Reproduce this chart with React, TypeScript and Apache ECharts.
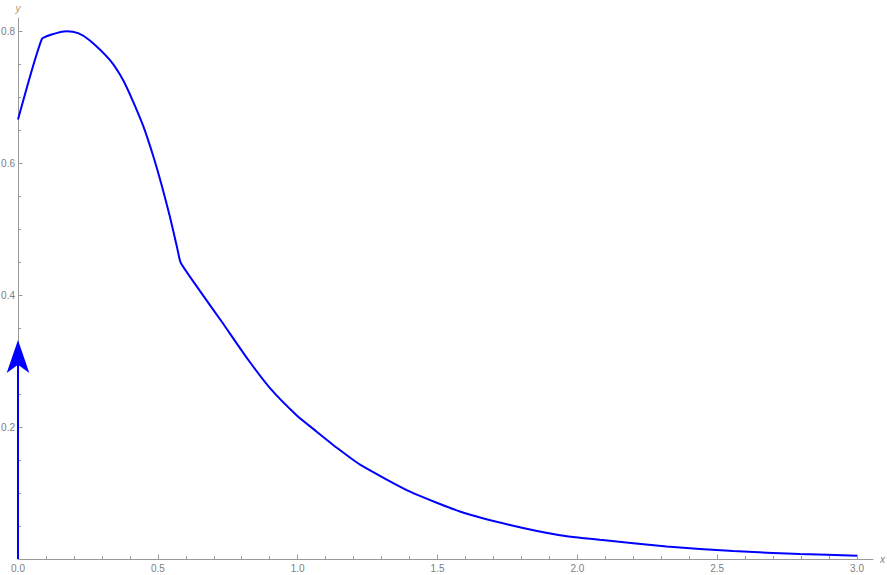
import React, { useEffect, useRef } from "react";
import * as echarts from "echarts";

// Curve sample points (x, y)
const curveX = [0, 0.085, 0.12, 0.174, 0.215, 0.257, 0.329, 0.377, 0.412, 0.448, 0.484, 0.514, 0.543, 0.57, 0.582, 0.651, 0.728, 0.823, 0.901, 0.996, 1.068, 1.145, 1.223, 1.402, 1.58, 1.759, 1.938, 2.081, 2.319, 2.557, 2.796, 3.0];
const curveY = [0.666, 0.788, 0.795, 0.8, 0.797, 0.786, 0.756, 0.725, 0.693, 0.656, 0.61, 0.566, 0.519, 0.47, 0.449, 0.406, 0.36, 0.302, 0.259, 0.218, 0.193, 0.167, 0.143, 0.102, 0.072, 0.0515, 0.036, 0.029, 0.019, 0.012, 0.0076, 0.005];

// Point mass (arrow) at x = 0
const arrowX = 0;
const arrowTipY = 0.332;

const xMajor = [0, 0.5, 1.0, 1.5, 2.0, 2.5, 3.0];
const xMinor = [0.1, 0.2, 0.3, 0.4, 0.6, 0.7, 0.8, 0.9, 1.1, 1.2, 1.3, 1.4, 1.6, 1.7, 1.8, 1.9, 2.1, 2.2, 2.3, 2.4, 2.6, 2.7, 2.8, 2.9];
const yMajor = [0.2, 0.4, 0.6, 0.8];
const yMinor = [0.05, 0.1, 0.15, 0.25, 0.3, 0.35, 0.45, 0.5, 0.55, 0.65, 0.7, 0.75];

const X_MAX = 3.057;
const Y_MAX = 0.82;

export default function App() {
  const ref = useRef<HTMLDivElement>(null);
  useEffect(() => {
    const chart = echarts.init(ref.current!, null, { renderer: "svg" });
    const axisColor = "#999999";
    const labelColor = "#808080";
    const font = "Liberation Sans";
    const arrowH = 33;
    const plotH = 575 - 18 - 16;
    const shaftEnd = arrowTipY - 14 * (Y_MAX / plotH);
    chart.setOption({
      animation: false,
      grid: { left: 18, right: 14, top: 18, bottom: 16, containLabel: false, outerBoundsMode: "none" },
      xAxis: [
        {
          type: "value",
          min: 0,
          max: X_MAX,
          name: "x",
          nameLocation: "end",
          nameGap: 7,
          nameTextStyle: { color: labelColor, fontStyle: "italic", fontSize: 10, fontFamily: font, verticalAlign: "middle" },
          axisLine: { show: true, onZero: false, lineStyle: { color: axisColor, width: 1 } },
          axisTick: { show: true, inside: true, length: 4.5, customValues: xMajor, lineStyle: { color: axisColor } },
          axisLabel: {
            show: true,
            customValues: xMajor,
            formatter: (v: number) => v.toFixed(1),
            color: labelColor,
            fontSize: 10,
            fontFamily: font,
            margin: 4,
          },
          splitLine: { show: false },
        },
        {
          type: "value",
          min: 0,
          max: X_MAX,
          position: "bottom",
          axisLine: { show: false },
          axisTick: { show: true, inside: true, length: 3, customValues: xMinor, lineStyle: { color: axisColor } },
          axisLabel: { show: false },
          splitLine: { show: false },
        },
      ],
      yAxis: [
        {
          type: "value",
          min: 0,
          max: Y_MAX,
          name: "y",
          nameLocation: "end",
          nameGap: 5,
          nameTextStyle: { color: "#b09878", fontStyle: "italic", fontSize: 10, fontFamily: font, align: "center" },
          axisLine: { show: true, onZero: false, lineStyle: { color: axisColor, width: 1 } },
          axisTick: { show: true, inside: true, length: 4.5, customValues: yMajor, lineStyle: { color: axisColor } },
          axisLabel: {
            show: true,
            customValues: yMajor,
            formatter: (v: number) => v.toFixed(1),
            color: labelColor,
            fontSize: 10,
            fontFamily: font,
            margin: 3,
          },
          splitLine: { show: false },
        },
        {
          type: "value",
          min: 0,
          max: Y_MAX,
          position: "left",
          axisLine: { show: false },
          axisTick: { show: true, inside: true, length: 3, customValues: yMinor, lineStyle: { color: axisColor } },
          axisLabel: { show: false },
          splitLine: { show: false },
        },
      ],
      series: [
        {
          type: "line",
          xAxisIndex: 0,
          yAxisIndex: 0,
          data: curveX.map((x, i) => [x, curveY[i]]),
          showSymbol: false,
          symbol: "none",
          smooth: 0.2,
          lineStyle: { color: "#0000ff", width: 2 },
          z: 3,
        },
        {
          type: "line",
          xAxisIndex: 0,
          yAxisIndex: 0,
          data: [[arrowX, 0], [arrowX, shaftEnd]],
          showSymbol: false,
          symbol: "none",
          clip: false,
          lineStyle: { color: "#0000ff", width: 2 },
          z: 4,
        },
        {
          type: "scatter",
          xAxisIndex: 0,
          yAxisIndex: 0,
          data: [[arrowX, arrowTipY]],
          symbol: "arrow",
          symbolSize: [17, arrowH],
          clip: false,
          itemStyle: { color: "#0000ff", opacity: 1 },
          z: 5,
        },
      ],
    });
    return () => chart.dispose();
  }, []);
  return <div ref={ref} style={{ position: "absolute", left: 0, top: 0, width: 887, height: 575 }} />;
}
